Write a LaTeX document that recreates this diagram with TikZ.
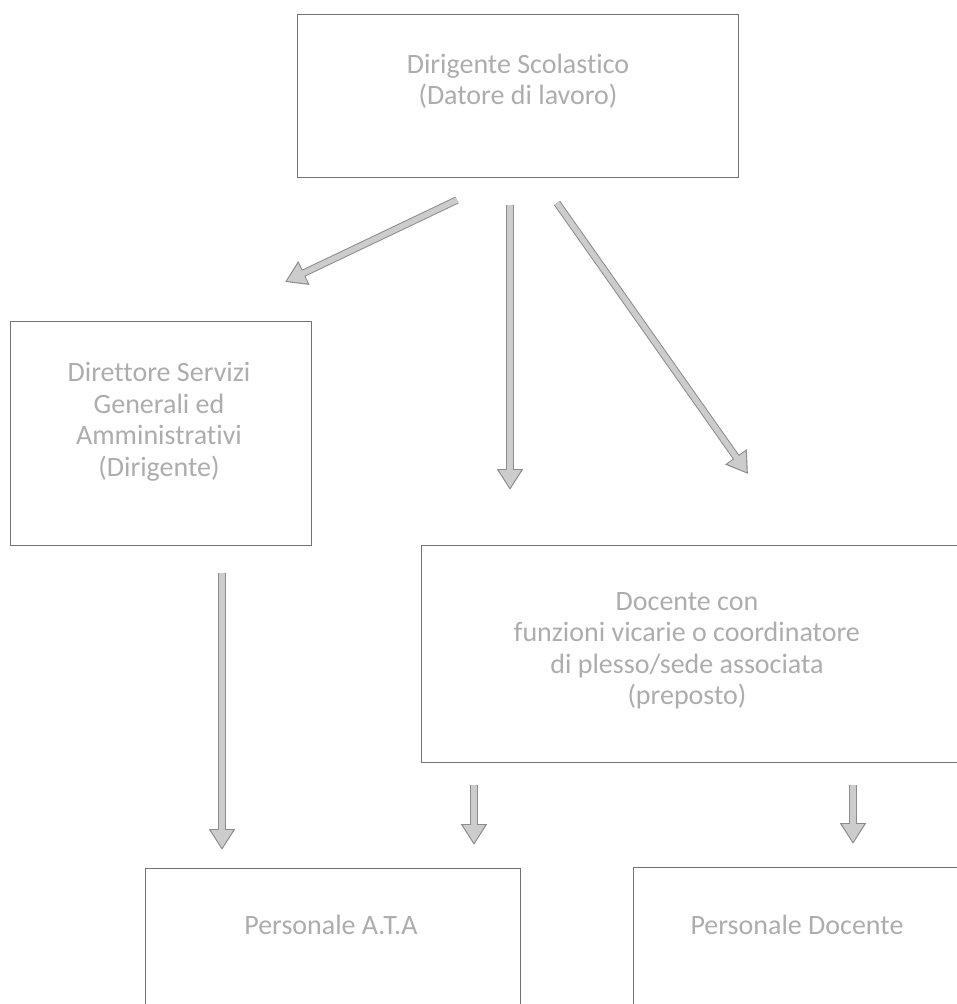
\documentclass[tikz,border=0pt]{standalone}
\usepackage{fontspec}
\setmainfont[RawFeature={-liga;-clig;-dlig;-calt}]{Carlito}
\usetikzlibrary{arrows.meta,calc}
\begin{document}
\begin{tikzpicture}[x=1pt,y=-1pt,
  box/.style={draw=black!55, line width=0.8pt, rectangle, inner sep=0pt},
  txt/.style={text=black!32, font=\fontsize{28}{31.5}\selectfont, align=center, inner sep=0pt},
  blockarrow/.style={draw=black!20, line width=5.5pt, shorten >=2pt,
     -{Triangle[width=21pt,length=18pt]},
     preaction={draw=black!45, line width=7.5pt, shorten >=0pt, -{Triangle[width=25pt,length=21pt]}}}
]
\clip (0,0) rectangle (957,1004);
\fill[white] (0,0) rectangle (957,1004);
% boxes
\node[box, minimum width=441pt, minimum height=163pt] (top) at (517.5,95.5) {};
\node[box, minimum width=301pt, minimum height=224pt] (dsga) at (160.5,433) {};
\node[box, minimum width=540pt, minimum height=217pt] (doc) at (691,653.5) {};
\node[box, minimum width=375pt, minimum height=200pt] (ata) at (332.5,968) {};
\node[box, minimum width=340pt, minimum height=200pt] (pdoc) at (803,967) {};
% texts
\node[txt] (toptxt) at (518,81) {Dirigente Scolastico\\(Datore di lavoro)};
\node[txt] (dsgatxt) at (159,422) {Direttore Servizi\\Generali ed\\Amministrativi\\(Dirigente)};
\node[txt] (doctxt) at (687,651) {Docente con\\funzioni vicarie o coordinatore\\di plesso/sede associata\\(preposto)};
\node[txt] (atatxt) at (331,925) {Personale A.T.A};
\node[txt] (pdoctxt) at (797,925) {Personale Docente};
% arrow end points
\coordinate (a1s) at (457,200); \coordinate (a1e) at (285,282);
\coordinate (a2s) at (510,205); \coordinate (a2e) at (510,490);
\coordinate (a3s) at (557,203); \coordinate (a3e) at (748,474);
\coordinate (a4s) at (222,573); \coordinate (a4e) at (222,850);
\coordinate (a5s) at (474,785); \coordinate (a5e) at (474,845);
\coordinate (a6s) at (853,785); \coordinate (a6e) at (853,844);
\draw[blockarrow] (a1s) -- (a1e);
\draw[blockarrow] (a2s) -- (a2e);
\draw[blockarrow] (a3s) -- (a3e);
\draw[blockarrow] (a4s) -- (a4e);
\draw[blockarrow] (a5s) -- (a5e);
\draw[blockarrow] (a6s) -- (a6e);
\end{tikzpicture}
\end{document}
